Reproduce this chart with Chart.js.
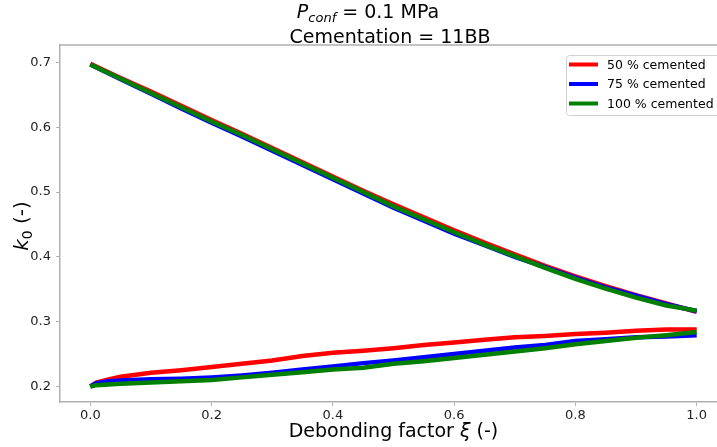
<!DOCTYPE html>
<html>
<head>
<meta charset="utf-8">
<script src="https://cdn.jsdelivr.net/npm/chart.js@4"></script>
<style>
  html, body { margin: 0; padding: 0; background: #fff; overflow: hidden; }
  #wrap { width: 740px; height: 447px; }
</style>
</head>
<body>
<div id="wrap"><canvas id="k0-chart" width="740" height="447"></canvas></div>
<script>
  // Debonding factor samples (lower branch is denser near 0)
  const xLower = [0, 0.01, 0.03, 0.05, 0.1, 0.15, 0.2, 0.25, 0.3, 0.35, 0.4, 0.45,
    0.5, 0.55, 0.6, 0.65, 0.7, 0.75, 0.8, 0.85, 0.9, 0.95, 1.0];
  const xUpper = [0, 0.05, 0.1, 0.15, 0.2, 0.25, 0.3, 0.35, 0.4, 0.45, 0.5,
    0.55, 0.6, 0.65, 0.7, 0.75, 0.8, 0.85, 0.9, 0.95, 1.0];

  // k0 values, lower (rising) branch
  const lower50 = [0.200, 0.206, 0.211, 0.215, 0.221, 0.225, 0.230, 0.235, 0.240, 0.247, 0.252, 0.255,
    0.259, 0.264, 0.268, 0.272, 0.276, 0.278, 0.281, 0.283, 0.286, 0.288, 0.288];
  const lower75 = [0.200, 0.205, 0.208, 0.209, 0.211, 0.212, 0.214, 0.217, 0.221, 0.226, 0.231, 0.236,
    0.240, 0.245, 0.250, 0.255, 0.260, 0.264, 0.270, 0.273, 0.276, 0.277, 0.279];
  const lower100 = [0.200, 0.202, 0.203, 0.204, 0.206, 0.208, 0.210, 0.214, 0.218, 0.222, 0.226, 0.229,
    0.235, 0.239, 0.244, 0.249, 0.254, 0.259, 0.265, 0.270, 0.275, 0.279, 0.284];

  // k0 values, upper (falling) branch
  const upper50 = [0.698, 0.676, 0.655, 0.633, 0.611, 0.590, 0.568, 0.546, 0.524, 0.502, 0.481,
    0.461, 0.441, 0.422, 0.404, 0.386, 0.370, 0.355, 0.341, 0.328, 0.315];
  const upper75 = [0.697, 0.674, 0.652, 0.629, 0.607, 0.586, 0.564, 0.542, 0.520, 0.498, 0.476,
    0.456, 0.436, 0.418, 0.400, 0.384, 0.368, 0.353, 0.340, 0.327, 0.316];
  const upper100 = [0.697, 0.675, 0.653, 0.631, 0.609, 0.588, 0.566, 0.544, 0.522, 0.500, 0.478,
    0.458, 0.438, 0.419, 0.401, 0.383, 0.366, 0.351, 0.337, 0.325, 0.317];

  const seriesLabels = ["50 % cemented", "75 % cemented", "100 % cemented"];
  const seriesColors = ["#ff0000", "#0000ff", "#008000"];
  const xTicks = [0.0, 0.2, 0.4, 0.6, 0.8, 1.0];
  const yTicks = [0.2, 0.3, 0.4, 0.5, 0.6, 0.7];

  const FONT = "'DejaVu Sans', sans-serif";
  const SPINE = "#b0b0b0";

  // lower branch, a null break, then the upper branch
  function branchPoints(lower, upper) {
    const pts = xLower.map((x, i) => ({ x: x, y: lower[i] }));
    pts.push({ x: 1.0, y: null });
    return pts.concat(xUpper.map((x, i) => ({ x: x, y: upper[i] })));
  }

  const branches = [
    branchPoints(lower50, upper50),
    branchPoints(lower75, upper75),
    branchPoints(lower100, upper100),
  ];

  // draws the text pieces of a label one after another (italic / subscript runs)
  function drawRuns(ctx, runs, x, y, align) {
    let total = 0;
    runs.forEach((r) => {
      ctx.font = r.font;
      r.w = ctx.measureText(r.text).width;
      total += r.w;
    });
    let cx = align === "center" ? x - total / 2 : x;
    ctx.textAlign = "left";
    ctx.textBaseline = "alphabetic";
    runs.forEach((r) => {
      ctx.font = r.font;
      ctx.fillText(r.text, cx, y + (r.dy || 0));
      cx += r.w;
    });
  }

  const decorations = {
    id: "decorations",
    afterDraw(chart) {
      const ctx = chart.ctx;
      const area = chart.chartArea;
      ctx.save();

      // top and right spines
      ctx.strokeStyle = SPINE;
      ctx.lineWidth = 1.5;
      ctx.beginPath();
      ctx.moveTo(area.left, area.top);
      ctx.lineTo(area.right, area.top);
      ctx.moveTo(area.right, area.top);
      ctx.lineTo(area.right, area.bottom);
      ctx.stroke();

      ctx.fillStyle = "#000";
      // title, two lines
      drawRuns(ctx, [
        { text: "P", font: "italic 19px " + FONT },
        { text: "conf", font: "italic 13px " + FONT, dy: 4 },
        { text: " = 0.1 MPa", font: "19px " + FONT },
      ], 368, 18, "center");
      drawRuns(ctx, [{ text: "Cementation = 11BB", font: "19px " + FONT }], 390, 43, "center");

      // x axis title
      drawRuns(ctx, [
        { text: "Debonding factor ", font: "19px " + FONT },
        { text: "ξ", font: "italic 19px " + FONT },
        { text: " (-)", font: "19px " + FONT },
      ], (area.left + area.right) / 2, 437, "center");

      // y axis title
      ctx.save();
      ctx.translate(28, 226);
      ctx.rotate(-Math.PI / 2);
      drawRuns(ctx, [
        { text: "k", font: "italic 20px " + FONT },
        { text: "0", font: "14px " + FONT, dy: 4 },
        { text: " (-)", font: "20px " + FONT },
      ], 0, 0, "center");
      ctx.restore();

      // legend box
      const lx = 566, ly = 55, lw = 170, lh = 60;
      ctx.fillStyle = "rgba(255,255,255,0.8)";
      ctx.strokeStyle = "#d0d0d0";
      ctx.lineWidth = 1;
      ctx.beginPath();
      ctx.roundRect(lx + 0.5, ly + 0.5, lw, lh, 3);
      ctx.fill();
      ctx.stroke();

      ctx.font = "12.5px " + FONT;
      ctx.textBaseline = "middle";
      ctx.textAlign = "left";
      seriesLabels.forEach((label, i) => {
        const rowY = 64.5 + i * 19.5;
        ctx.strokeStyle = seriesColors[i];
        ctx.lineWidth = 4;
        ctx.beginPath();
        ctx.moveTo(569, rowY);
        ctx.lineTo(598, rowY);
        ctx.stroke();
        ctx.fillStyle = "#000";
        ctx.fillText(label, 607, rowY + 1);
      });

      ctx.restore();
    },
  };

  const tickFont = { family: FONT, size: 13 };

  new Chart(document.getElementById("k0-chart"), {
    type: "line",
    data: {
      datasets: branches.map((pts, i) => ({
        label: seriesLabels[i],
        data: pts,
        order: 3 - i, // later series drawn on top
        borderColor: seriesColors[i],
        backgroundColor: seriesColors[i],
        borderWidth: 4.5,
        pointRadius: 0,
        tension: 0,
        spanGaps: false,
        fill: false,
      })),
    },
    options: {
      responsive: false,
      animation: false,
      layout: { padding: { top: 45, right: 13, left: 0, bottom: 0 } },
      plugins: {
        legend: { display: false },
        title: { display: false },
        tooltip: { enabled: false },
      },
      scales: {
        x: {
          type: "linear",
          min: -0.05,
          max: 1.05,
          afterBuildTicks: (scale) => {
            scale.ticks = xTicks.map((v) => ({ value: v }));
          },
          afterFit: (scale) => {
            scale.height = 45;
          },
          ticks: {
            font: tickFont,
            color: "#222",
            padding: 2,
            maxRotation: 0,
            callback: (v) => v.toFixed(1),
          },
          grid: { drawOnChartArea: false, tickLength: 4, color: SPINE },
          border: { color: SPINE, width: 1.5 },
        },
        y: {
          type: "linear",
          min: 0.176,
          max: 0.727,
          afterBuildTicks: (scale) => {
            scale.ticks = yTicks.map((v) => ({ value: v }));
          },
          afterFit: (scale) => {
            scale.width = 60;
          },
          ticks: {
            font: tickFont,
            color: "#222",
            padding: 5,
            callback: (v) => v.toFixed(1),
          },
          grid: { drawOnChartArea: false, tickLength: 4, color: SPINE },
          border: { color: SPINE, width: 1.5 },
        },
      },
    },
    plugins: [decorations],
  });
</script>
</body>
</html>
